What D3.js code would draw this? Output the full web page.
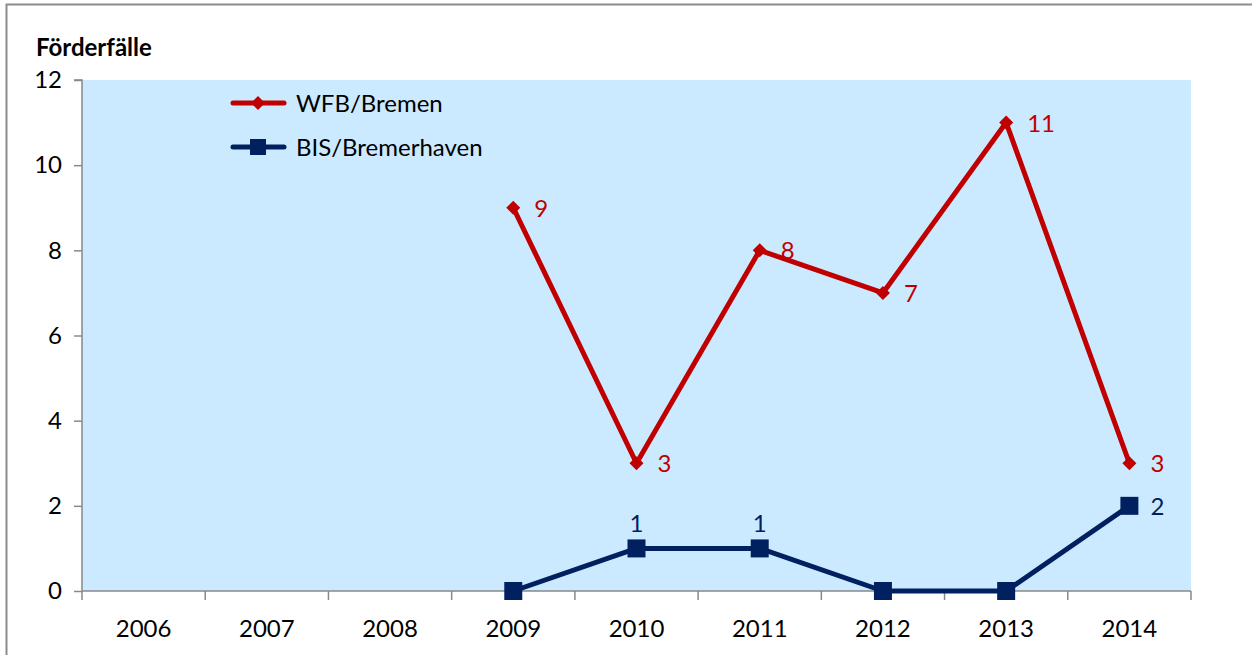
<!DOCTYPE html>
<html>
<head>
<meta charset="utf-8">
<script src="https://cdn.jsdelivr.net/npm/d3@7"></script>
<style>
	body { margin: 0; background: #fff; }
	svg { display: block; font-family: Lato, "Open Sans", sans-serif; }
</style>
</head>
<body>
<div id="chart"></div>
<script>
/* chart data */
const years = ["2006", "2007", "2008", "2009", "2010", "2011", "2012", "2013", "2014"];
const wfbValues = [null, null, null, 9, 3, 8, 7, 11, 3];
const bisValues = [null, null, null, 0, 1, 1, 0, 0, 2];
const yTicks = [0, 2, 4, 6, 8, 10, 12];

/* label placement per point: "right" or "top", null = no label */
const wfbLabelPos = [null, null, null, "right", "right", "right", "right", "right", "right"];
const bisLabelPos = [null, null, null, null, "top", "top", null, null, "right"];

const width = 1252, height = 655;
const margin = { top: 80, right: 61, bottom: 64, left: 82 };
const fontSize = 24;

const svg = d3.select("#chart")
	.append("svg")
	.attr("width", width)
	.attr("height", height);

/* outer frame */
svg.append("path")
	.attr("d", `M6.5,${height} V4.5 H${width}`)
	.attr("fill", "none")
	.attr("stroke", "#8c8c8c")
	.attr("stroke-width", 2);

const x = d3.scaleBand()
	.domain(years)
	.range([margin.left, width - margin.right]);

const y = d3.scaleLinear()
	.domain([0, 12])
	.range([height - margin.bottom, margin.top]);

/* plot area */
svg.append("rect")
	.attr("x", margin.left)
	.attr("y", margin.top)
	.attr("width", width - margin.right - margin.left)
	.attr("height", y(0) - margin.top)
	.attr("fill", "#cceaff");

/* y axis */
const yAxis = svg.append("g")
	.attr("transform", `translate(${margin.left},0)`)
	.call(d3.axisLeft(y).tickValues(yTicks).tickSize(8).tickPadding(12).tickFormat(d3.format("d")));
yAxis.selectAll("path, line").attr("stroke", "#888").attr("stroke-width", 1.5);
yAxis.select(".domain").attr("d", `M-8,${y(12)}H0V${y(0)}`);
yAxis.selectAll("text").attr("font-size", fontSize).attr("fill", "#000").attr("font-family", "Lato");

/* x axis - ticks at category boundaries */
const xAxis = svg.append("g")
	.attr("transform", `translate(0,${y(0)})`);
xAxis.append("line")
	.attr("x1", margin.left).attr("x2", width - margin.right)
	.attr("stroke", "#888").attr("stroke-width", 1.5);
const boundaries = years.map((d) => x(d)).concat([x(years[years.length - 1]) + x.bandwidth()]);
xAxis.selectAll(".tick")
	.data(boundaries)
	.enter()
	.append("line")
		.attr("x1", (d) => d).attr("x2", (d) => d)
		.attr("y1", 0).attr("y2", 9)
		.attr("stroke", "#888").attr("stroke-width", 1.5);
xAxis.selectAll(".label")
	.data(years)
	.enter()
	.append("text")
		.attr("x", (d) => x(d) + x.bandwidth() / 2)
		.attr("y", 46)
		.attr("text-anchor", "middle")
		.attr("font-size", fontSize)
		.text((d) => d);

/* axis title */
svg.append("text")
	.attr("x", 36)
	.attr("y", 56)
	.attr("font-size", fontSize)
	.attr("font-weight", "bold")
	.text("Förderfälle");

const cx = (i) => x(years[i]) + x.bandwidth() / 2;

function drawSeries(values, color, marker, labelPos) {
	const pts = values.map((v, i) => ({ v, i })).filter((d) => d.v !== null);
	const line = d3.line().x((d) => cx(d.i)).y((d) => y(d.v));
	svg.append("path")
		.datum(pts)
		.attr("d", line)
		.attr("fill", "none")
		.attr("stroke", color)
		.attr("stroke-width", 5)
		.attr("stroke-linejoin", "round");

	svg.append("g").selectAll("path")
		.data(pts)
		.enter()
		.append("path")
			.attr("transform", (d) => `translate(${cx(d.i)},${y(d.v)})`)
			.attr("d", marker)
			.attr("fill", color);

	svg.append("g").selectAll("text")
		.data(pts.filter((d) => labelPos[d.i]))
		.enter()
		.append("text")
			.attr("x", (d) => labelPos[d.i] === "right" ? cx(d.i) + 21 : cx(d.i))
			.attr("y", (d) => labelPos[d.i] === "right" ? y(d.v) + 9 : y(d.v) - 16)
			.attr("text-anchor", (d) => labelPos[d.i] === "right" ? "start" : "middle")
			.attr("font-size", fontSize)
			.attr("fill", color)
			.text((d) => d.v);
}

const diamond = "M0,-7L7,0L0,7L-7,0Z";
const square = "M-9,-9H9V9H-9Z";

drawSeries(wfbValues, "#c00000", diamond, wfbLabelPos);
drawSeries(bisValues, "#002060", square, bisLabelPos);

/* legend */
const legend = [
	{ name: "WFB/Bremen", color: "#c00000", marker: diamond, y: 103 },
	{ name: "BIS/Bremerhaven", color: "#002060", marker: "M-8,-8H8V8H-8Z", y: 147 }
];
const lg = svg.append("g").selectAll("g")
	.data(legend)
	.enter()
	.append("g")
		.attr("transform", (d) => `translate(0,${d.y})`);
lg.append("line")
	.attr("x1", 233).attr("x2", 284)
	.attr("stroke", (d) => d.color)
	.attr("stroke-width", 5)
	.attr("stroke-linecap", "round");
lg.append("path")
	.attr("transform", "translate(258,0)")
	.attr("d", (d) => d.marker)
	.attr("fill", (d) => d.color);
lg.append("text")
	.attr("x", 296)
	.attr("y", 9)
	.attr("font-size", fontSize)
	.text((d) => d.name);
</script>
</body>
</html>
